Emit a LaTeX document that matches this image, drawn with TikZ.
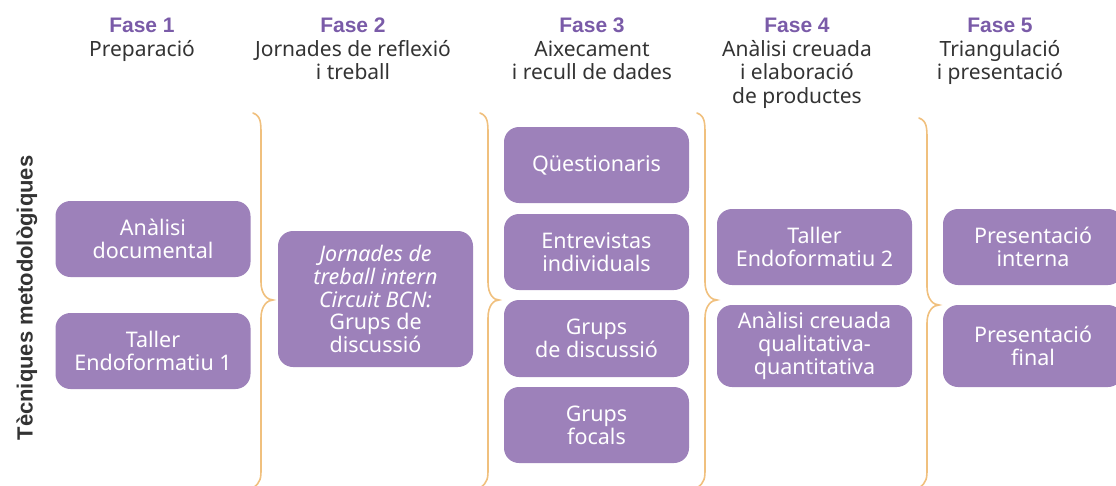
\documentclass[tikz,border=0pt]{standalone}
\usepackage{fontspec}
\setmainfont{Noto Sans}
\newfontfamily\hbold{Liberation Sans}
\definecolor{boxc}{HTML}{9D81BA}
\definecolor{fasec}{HTML}{7A5BA8}
\definecolor{bracec}{HTML}{F0C07E}
\definecolor{txtc}{HTML}{333333}
\begin{document}
\begin{tikzpicture}[x=1pt,y=-1pt,
  tbox/.style={fill=boxc,rounded corners=15pt,text=white,align=center,inner sep=0pt,
    font=\fontsize{21.5}{22.7}\selectfont},
  head/.style={anchor=north,align=center,inner sep=0pt,text=txtc,
    font=\fontsize{21}{23.5}\selectfont},
  brc/.style={draw=bracec,line width=1.6pt,line cap=round}]
\useasboundingbox (0,0) rectangle (1116,485);
% headers
\node[head] (h1) at (142,18) {{\hbold\bfseries\color{fasec}Fase 1}\\Preparació};
\node[head] (h2) at (353,18) {{\hbold\bfseries\color{fasec}Fase 2}\\Jornades de reflexió\\i treball};
\node[head] (h3) at (592,18) {{\hbold\bfseries\color{fasec}Fase 3}\\Aixecament\\i recull de dades};
\node[head] (h4) at (797,18) {{\hbold\bfseries\color{fasec}Fase 4}\\Anàlisi creuada\\i elaboració\\de productes};
\node[head] (h5) at (1000,18) {{\hbold\bfseries\color{fasec}Fase 5}\\Triangulació\\i presentació};
% side label
\node[rotate=90,text=txtc,font=\fontsize{22}{24}\hbold\bfseries,inner sep=0pt] (side) at (27,298) {Tècniques metodològiques};
% fase 1
\node[tbox,minimum width=195pt,minimum height=76pt] (b11) at (153,239) {Anàlisi\\documental};
\node[tbox,minimum width=195pt,minimum height=76pt] (b12) at (153,351) {Taller\\Endoformatiu 1};
% fase 2
\node[tbox,minimum width=195pt,minimum height=136pt] (b21) at (375.5,299) {\itshape Jornades de\\\itshape treball intern\\\itshape Circuit BCN:\\Grups de\\discussió};
% fase 3
\node[tbox,minimum width=185pt,minimum height=76pt] (b31) at (596.5,165) {Qüestionaris};
\node[tbox,minimum width=185pt,minimum height=76pt] (b32) at (596.5,252) {Entrevistas\\individuals};
\node[tbox,minimum width=185pt,minimum height=77pt] (b33) at (596.5,338.5) {Grups\\de discussió};
\node[tbox,minimum width=185pt,minimum height=76pt] (b34) at (596.5,425) {Grups\\focals};
% fase 4
\node[tbox,minimum width=195pt,minimum height=76pt] (b41) at (814.5,247) {Taller\\Endoformatiu 2};
\node[tbox,minimum width=195pt,minimum height=82pt] (b42) at (814.5,346) {Anàlisi creuada\\qualitativa-\\quantitativa};
% fase 5
\node[tbox,minimum width=180pt,minimum height=76pt] (b51) at (1033,247) {Presentació\\interna};
\node[tbox,minimum width=180pt,minimum height=82pt] (b52) at (1033,346) {Presentació\\final};
% braces
\newcommand{\mybrace}[5]{% xa, x1, xt, top, tip
  \draw[brc] (#1,#4) .. controls (#2,#4+3) and (#2,#4+10) .. (#2,#4+22)
    -- (#2,#5-18) .. controls (#2,#5-5) and (#3-5,#5) .. (#3,#5)
    .. controls (#3-5,#5) and (#2,#5+5) .. (#2,#5+18)
    -- (#2,468) .. controls (#2,478) and (#2,482) .. (#1,488);}
\mybrace{253}{261}{273}{113}{300}
\mybrace{480}{488}{499}{113}{300}
\mybrace{697}{705}{717}{113}{300}
\mybrace{919}{927}{939}{118}{305}
\end{tikzpicture}
\end{document}
